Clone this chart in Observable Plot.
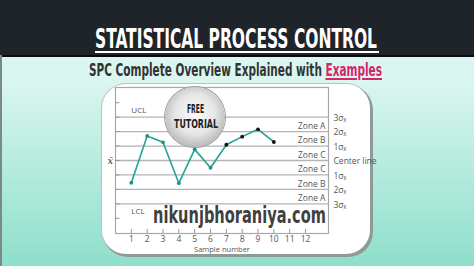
<!DOCTYPE html>
<html><head><meta charset="utf-8">
<script src="https://cdn.jsdelivr.net/npm/d3@7"></script>
<script src="https://cdn.jsdelivr.net/npm/@observablehq/plot@0.6"></script>
<style>
html,body{margin:0;padding:0;}
body{width:474px;height:266px;position:relative;overflow:hidden;background:linear-gradient(#daf6f0 30%,#8edfca);font-family:"Open Sans",sans-serif;}
#leftedge{position:absolute;left:0;top:55px;width:2px;height:211px;background:#7a8a86;}
#header{position:absolute;left:0;top:0;width:474px;height:55px;background:#1f232a;border-bottom:2px solid #0a0b0d;}
.fit{position:absolute;white-space:nowrap;transform-origin:0 0;font-family:"Liberation Sans Narrow","DejaVu Sans Condensed",sans-serif;font-weight:bold;}
#title{color:#fff;font-size:26px;line-height:26px;left:95px;top:26px;}
#tline{position:absolute;left:95px;top:51px;width:284px;height:2px;background:#fff;}
#subtitle{color:#333;font-size:17px;line-height:17px;left:89px;top:62px;}
#subtitle span{color:#d6246a;text-decoration:underline;text-decoration-thickness:2px;text-underline-offset:2px;}
#panel{position:absolute;left:102px;top:84px;width:268px;height:170px;background:#fff;border-radius:24px;box-shadow:2px 2px 0 1px #8f9a97, 0 0 0 1px #b8c4c1;}
#chart{position:absolute;left:100px;top:84px;}
#chart svg{overflow:visible;}
#badge{position:absolute;left:165px;top:87px;width:60px;height:60px;border-radius:50%;background:radial-gradient(circle at 50% 45%,#fbfbfb 0%,#e6e6e6 45%,#a9a9a9 85%,#7c7c7c 100%);box-shadow:0 0 0 1px #9a9a9a;}
.btxt{color:#222;font-size:13px;line-height:13px;}
#watermark{color:#404040;font-size:23px;line-height:20px;left:153px;top:205px;}
</style></head>
<body>
<div id="header"></div>
<div id="leftedge"></div>
<div id="title" class="fit" data-w="282">STATISTICAL PROCESS CONTROL</div>
<div id="tline"></div>
<div id="subtitle" class="fit" data-w="293">SPC Complete Overview Explained with <span>Examples</span></div>
<div id="panel"></div>
<div id="chart"></div>
<div id="badge"></div>
<div class="fit btxt" data-w="17" data-cx="195" style="top:102px">FREE</div>
<div class="fit btxt" data-w="44" data-cx="196" style="top:117px">TUTORIAL</div>
<div id="watermark" class="fit" data-w="173">nikunjbhoraniya.com</div>
<script>
// ---- data ----
const samples = [1,2,3,4,5,6,7,8,9,10];
const values  = [-1.54, 1.70, 1.26, -1.57, 0.77, -0.50, 1.09, 1.65, 2.16, 1.28];
const pointColors = ["teal","teal","teal","teal","teal","teal","black","black","black","black"];
const xTicks = [1,2,3,4,5,6,7,8,9,10,11,12];
const yTicks = [-4,-3,-2,-1,0,1,2,3,4];
const sigmaLines = [-3,-2,-1,0,1,2,3];
const zoneLabels = ["Zone A","Zone B","Zone C","Zone C","Zone B","Zone A"];
const zoneLevels = [2.38,1.38,0.38,-0.62,-1.62,-2.62];
const sideLabels = ["3σₓ","2σₓ","1σₓ","Center line","1σₓ","2σₓ","3σₓ"];
const sideLevels = [3,2,1,0,-1,-2,-3];
const limitLabels = ["UCL","LCL"];
const limitLevels = [3.44,-3.5];
const xDomain = [0, 13.45];
const yDomain = [-5.05, 5.05];

const pts = samples.map((s,i)=>({s, v: values[i], c: pointColors[i]}));
const zones = zoneLabels.map((t,i)=>({t, y: zoneLevels[i]}));
const sides = sideLabels.map((t,i)=>({t, y: sideLevels[i]}));
const limits = limitLabels.map((t,i)=>({t, y: limitLevels[i], x: samples[0]}));
const gray = "#555";

const plot = Plot.plot({
  width: 280, height: 175,
  marginLeft: 15, marginRight: 52, marginTop: 3, marginBottom: 26,
  style: {fontFamily: "'Open Sans', sans-serif", fontSize: "8.5px", color: gray, background: "transparent"},
  x: {domain: xDomain, axis: null},
  y: {domain: yDomain, axis: null},
  marks: [
    Plot.ruleY(sigmaLines, {y: d=>d, stroke: "#b4b4b4", strokeWidth: 1.3}),
    Plot.frame({stroke: "#a8a8a8", strokeWidth: 1.2}),
    Plot.ruleY(yTicks, {y: d=>d, x1: xDomain[0], x2: xDomain[0] + 0.28, stroke: "#999"}),
    Plot.ruleX(xTicks, {x: d=>d, y1: yDomain[0], y2: yDomain[0] + 0.28, stroke: "#999"}),
    Plot.axisX(xTicks, {anchor: "bottom", tickSize: 0, tickPadding: 2, fontSize: 8.5, fill: gray}),
    Plot.text(["Sample number"], {frameAnchor: "bottom", dy: 18.5, fill: gray, fontSize: 7.5}),
    Plot.text(["x̄"], {frameAnchor: "left", dx: -8, fill: "#333", fontSize: 10, fontStyle: "italic", fontFamily: "'DejaVu Serif', serif"}),
    Plot.text(zones, {y: "y", text: "t", frameAnchor: "right", dx: -3, textAnchor: "end", fill: gray, fontSize: 8.5}),
    Plot.text(sides, {y: "y", text: "t", frameAnchor: "right", dx: 5, dy: 1, textAnchor: "start", fill: gray, fontSize: 8.5}),
    Plot.text(limits, {x: "x", y: "y", text: "t", textAnchor: "start", fill: gray, fontSize: 8}),
    Plot.line(pts, {x: "s", y: "v", stroke: "#22a394", strokeWidth: 1.6}),
    Plot.dot(pts, {x: "s", y: "v", r: 1.9, fill: d => d.c === "black" ? "#111" : "#1d9488", stroke: "none"})
  ]
});
document.getElementById("chart").appendChild(plot);

// fit condensed headings to their widths
document.querySelectorAll(".fit").forEach(el => {
  const w = el.getBoundingClientRect().width;
  const target = +el.dataset.w;
  const k = target / w;
  if (el.dataset.cx) el.style.left = (+el.dataset.cx - target/2) + "px";
  el.style.transform = `scaleX(${k})`;
});
</script>
</body></html>
